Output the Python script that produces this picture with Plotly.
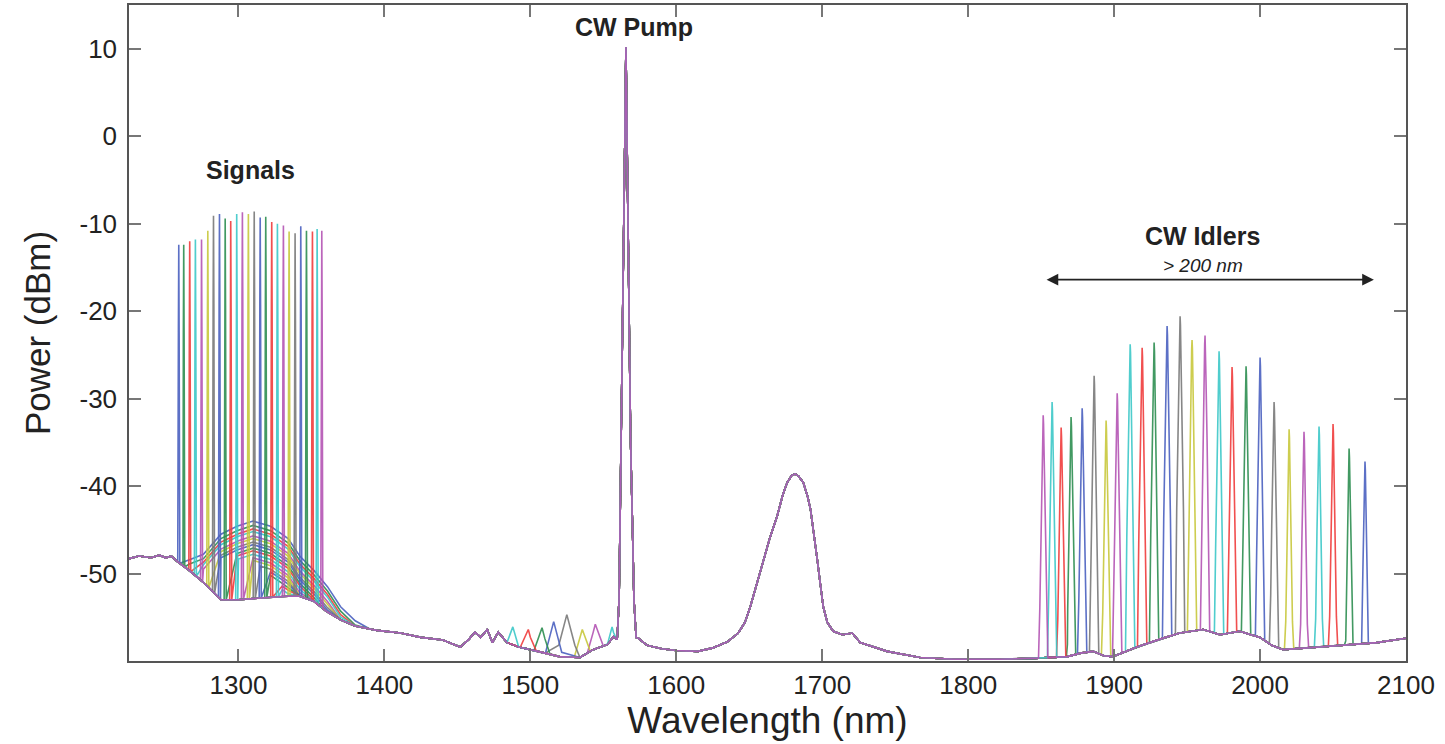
import numpy as np
import plotly.graph_objects as go

# noise floor shared by every trace (wavelength nm, power dBm)
FLOOR_NM = [1225, 1232, 1240, 1246, 1250, 1254, 1258, 1266, 1276, 1288, 1300, 1315, 1330, 1342,
            1352, 1360, 1370, 1380, 1395, 1411, 1425, 1440, 1452, 1458, 1462, 1466,
            1470.5, 1474, 1478, 1484, 1492, 1500, 1510, 1520, 1534, 1543, 1553, 1557,
            1559, 1574, 1580, 1590, 1600, 1615, 1625, 1635, 1642.5, 1647, 1650.7, 1655,
            1659.6, 1664, 1669, 1673, 1676, 1679, 1681.5, 1684, 1687, 1690, 1692, 1694.5,
            1696.6, 1698.7, 1700.7, 1703.5, 1707.5, 1714, 1720.5, 1726,
            1744.5, 1767, 1790, 1822, 1845, 1868, 1877, 1885.6, 1893, 1899, 1915.7,
            1931.5, 1945, 1961, 1972.6, 1986, 2000, 2008, 2015.8, 2041, 2063.7, 2080, 2100]
FLOOR_DBM = [-48.3, -48.0, -48.2, -47.9, -48.2, -48.0, -48.6, -49.6, -51.0, -53.0, -53.0, -52.8, -52.6, -52.6,
             -53.2, -54.3, -55.3, -56.0, -56.5, -56.8, -57.3, -57.6, -58.4, -57.5, -56.7, -57.3,
             -56.4, -57.9, -56.7, -57.9, -58.4, -58.7, -59.1, -59.5, -59.6, -58.7, -58.1, -57.2,
             -57.5, -57.4, -58.2, -58.6, -58.8, -58.9, -58.5, -57.8, -56.8, -55.6, -53.8, -51.3,
             -48.7, -46.0, -43.5, -41.0, -39.6, -38.8, -38.6, -38.9, -39.6, -41.2, -42.7, -45.5,
             -48.4, -51.2, -53.8, -55.6, -56.6, -57.0, -56.8, -57.9,
             -58.9, -59.6, -59.8, -59.8, -59.7, -59.5, -59.1, -58.9, -59.4, -59.5, -58.4,
             -57.5, -56.8, -56.4, -57.0, -56.6, -57.3, -58.2, -58.7, -58.4, -58.1, -57.9, -57.4]

# CW pump
PUMP_NM = 1565.5
PUMP_DBM = 10.2
PUMP_SHAPE_DNM = [-6.0, -4.7, -4.2, -3.2, -1.7, -0.7, 0.0, 0.7, 1.7, 3.2, 4.8, 5.5, 7.0]
PUMP_SHAPE_DDB = [-67.7, -63.2, -57.2, -45.2, -25.2, -10.2, 0.0, -10.2, -25.2, -45.2, -57.2, -63.2, -67.5]

# signals, left to right
SIGNAL_NM = [1259.1, 1262.5, 1266.6, 1270.5, 1274.7, 1279.0, 1282.9, 1287.0, 1290.9,
             1294.7, 1298.8, 1302.7, 1306.8, 1310.8, 1314.9, 1318.7, 1322.8, 1326.7,
             1330.8, 1334.7, 1338.8, 1342.7, 1346.6, 1350.7, 1353.9, 1357.1]
SIGNAL_DBM = [-12.4, -12.4, -12.0, -11.8, -11.8, -10.8, -9.1, -8.9, -9.4, -9.7, -8.9, -8.7,
              -8.9, -8.6, -9.3, -9.2, -9.8, -10.0, -10.2, -10.9, -11.1, -10.3, -10.8, -10.9,
              -10.6, -10.8]
# level of the amplified-noise hump near 1310 nm for each signal trace
HUMP_PEAK_DBM = [-44.0, -44.5, -44.9, -45.2, -45.7, -46.0, -46.4, -46.7, -47.1, -47.4,
                 -47.8, -48.2, -48.5, -48.9, -49.2, -49.6, -49.9, -50.3, -50.6, -51.0,
                 -51.3, -51.7, -52.0, -52.3, -52.6, -52.9]
HUMP_NM = [1262, 1276, 1288, 1299, 1310, 1322, 1334, 1342, 1351, 1361, 1370, 1379, 1390]
HUMP_DBM = [-48.7, -47.8, -45.5, -44.6, -44.0, -44.6, -46.0, -48.0, -49.5, -51.5, -53.8, -55.3, -56.4]

# idlers, left to right (idler i pairs with signal 25 - i)
IDLER_NM = [1851.4, 1857.5, 1863.7, 1870.5, 1878.1, 1886.3, 1894.5, 1902.1, 1911.0, 1919.2,
            1927.4, 1936.3, 1945.2, 1953.4, 1962.3, 1971.9, 1980.8, 1990.4, 2000.0, 2009.6,
            2019.9, 2030.1, 2040.4, 2050.0, 2061.0, 2071.9]
IDLER_DBM = [-31.9, -30.4, -33.3, -32.1, -31.1, -27.4, -32.5, -29.4, -23.8, -24.2, -23.6,
             -21.7, -20.6, -23.3, -22.8, -24.6, -26.4, -26.3, -25.3, -30.4, -33.5, -33.8,
             -33.2, -32.9, -35.7, -37.2]
# weak mixing products between 1480 and 1560 nm (by idler index)
FWM_IDLER = [1, 2, 3, 4, 5, 6, 7, 8]
FWM_NM = [1488.0, 1498.6, 1508.0, 1516.0, 1525.0, 1535.6, 1544.5, 1556.0]
FWM_DBM = [-56.1, -56.4, -56.2, -55.5, -54.7, -56.4, -55.8, -56.1]

COLORS = ["#4b61c0", "#2e8f52", "#f03c3c", "#3cc8c8", "#b455b4", "#c8c83c", "#7a7a7a"]

SIG_DNM = [-0.7, -0.25, 0.0, 0.25, 0.7]
SIG_DDB = [-60, -10, 0, -10, -60]
IDL_DNM = [-3.2, -2.3, -1.4, -0.6, -0.25, 0.0, 0.25, 0.6, 1.4, 2.3, 3.2]
IDL_DDB = [-40, -22, -12, -4.5, -1, 0, -1, -4.5, -12, -22, -40]
FWM_DNM = [-5.5, 0.0, 5.5]
FWM_DDB = [-3.5, 0.0, -3.5]

FONT = "Liberation Sans, Arial, sans-serif"


def peak(grid, center, level, dnm, ddb):
    x = np.array(dnm) + center
    y = np.array(ddb) + level
    return np.interp(grid, x, y, left=-200, right=-200)


fig = go.Figure()
n = len(SIGNAL_NM)
for k in range(n):
    j = n - 1 - k
    parts = [FLOOR_NM, HUMP_NM,
             list(np.array(PUMP_SHAPE_DNM) + PUMP_NM),
             list(np.array(SIG_DNM) + SIGNAL_NM[k]),
             list(np.array(IDL_DNM) + IDLER_NM[j])]
    if j in FWM_IDLER:
        parts.append(list(np.array(FWM_DNM) + FWM_NM[FWM_IDLER.index(j)]))
    grid = np.unique(np.concatenate(parts))
    grid = grid[(grid >= 1225) & (grid <= 2100)]

    y = np.interp(grid, FLOOR_NM, FLOOR_DBM)
    hump = np.interp(grid, HUMP_NM, HUMP_DBM, left=-200, right=-200) + (HUMP_PEAK_DBM[k] - max(HUMP_DBM))
    hump[grid <= SIGNAL_NM[k] + 0.7] = -200
    y = np.maximum(y, hump)
    y = np.maximum(y, peak(grid, PUMP_NM, PUMP_DBM, PUMP_SHAPE_DNM, PUMP_SHAPE_DDB))
    y = np.maximum(y, peak(grid, SIGNAL_NM[k], SIGNAL_DBM[k], SIG_DNM, SIG_DDB))
    y = np.maximum(y, peak(grid, IDLER_NM[j], IDLER_DBM[j], IDL_DNM, IDL_DDB))
    if j in FWM_IDLER:
        i = FWM_IDLER.index(j)
        y = np.maximum(y, peak(grid, FWM_NM[i], FWM_DBM[i], FWM_DNM, FWM_DDB))

    fig.add_trace(go.Scatter(x=grid, y=y, mode="lines",
                             line=dict(color=COLORS[k % 7], width=1.6),
                             opacity=0.9, showlegend=False, hoverinfo="skip"))

bold = dict(family=FONT, size=25, color="#222")
fig.add_annotation(x=1308, y=-3.9, text="<b>Signals</b>", showarrow=False, font=bold)
fig.add_annotation(x=1571, y=12.5, text="<b>CW Pump</b>", showarrow=False, font=bold)
fig.add_annotation(x=1960.5, y=-11.4, text="<b>CW Idlers</b>", showarrow=False, font=bold)
fig.add_annotation(x=1961, y=-14.8, text="<i>&gt; 200 nm</i>", showarrow=False,
                   font=dict(family=FONT, size=19, color="#222"))
fig.add_annotation(x=2078, y=-16.4, ax=1852.7, ay=-16.4, axref="x", ayref="y",
                   text="", showarrow=True, arrowside="end+start", arrowhead=2,
                   startarrowhead=2, arrowsize=1.3, startarrowsize=1.3, arrowwidth=1.8,
                   arrowcolor="#222")

axis = dict(showline=True, linecolor="#555", linewidth=1.5, mirror="ticks",
            ticks="inside", ticklen=12, tickcolor="#777", tickwidth=1.5,
            showgrid=False, zeroline=False, automargin=False,
            tickfont=dict(family=FONT, size=26, color="#222"))

X_TICKS = [1300, 1400, 1500, 1600, 1700, 1800, 1900, 2000, 2100]
Y_TICKS = [-50, -40, -30, -20, -10, 0, 10]

fig.update_layout(
    width=1445, height=744,
    margin=dict(l=129, r=39, t=5, b=83),
    plot_bgcolor="white", paper_bgcolor="white",
    xaxis=dict(axis, range=[1225, 2100], tickvals=X_TICKS, ticktext=[str(v) for v in X_TICKS],
               title=dict(text="Wavelength (nm)", standoff=0,
                          font=dict(family=FONT, size=37, color="#222"))),
    yaxis=dict(axis, range=[-60, 15], tickvals=Y_TICKS, ticktext=[str(v) for v in Y_TICKS],
               ticklabelstandoff=5,
               title=dict(text="Power (dBm)", standoff=18,
                          font=dict(family=FONT, size=35, color="#222"))),
)

fig.write_html("out.html", config={"displayModeBar": False},
               post_script="document.body.style.margin='0';")
